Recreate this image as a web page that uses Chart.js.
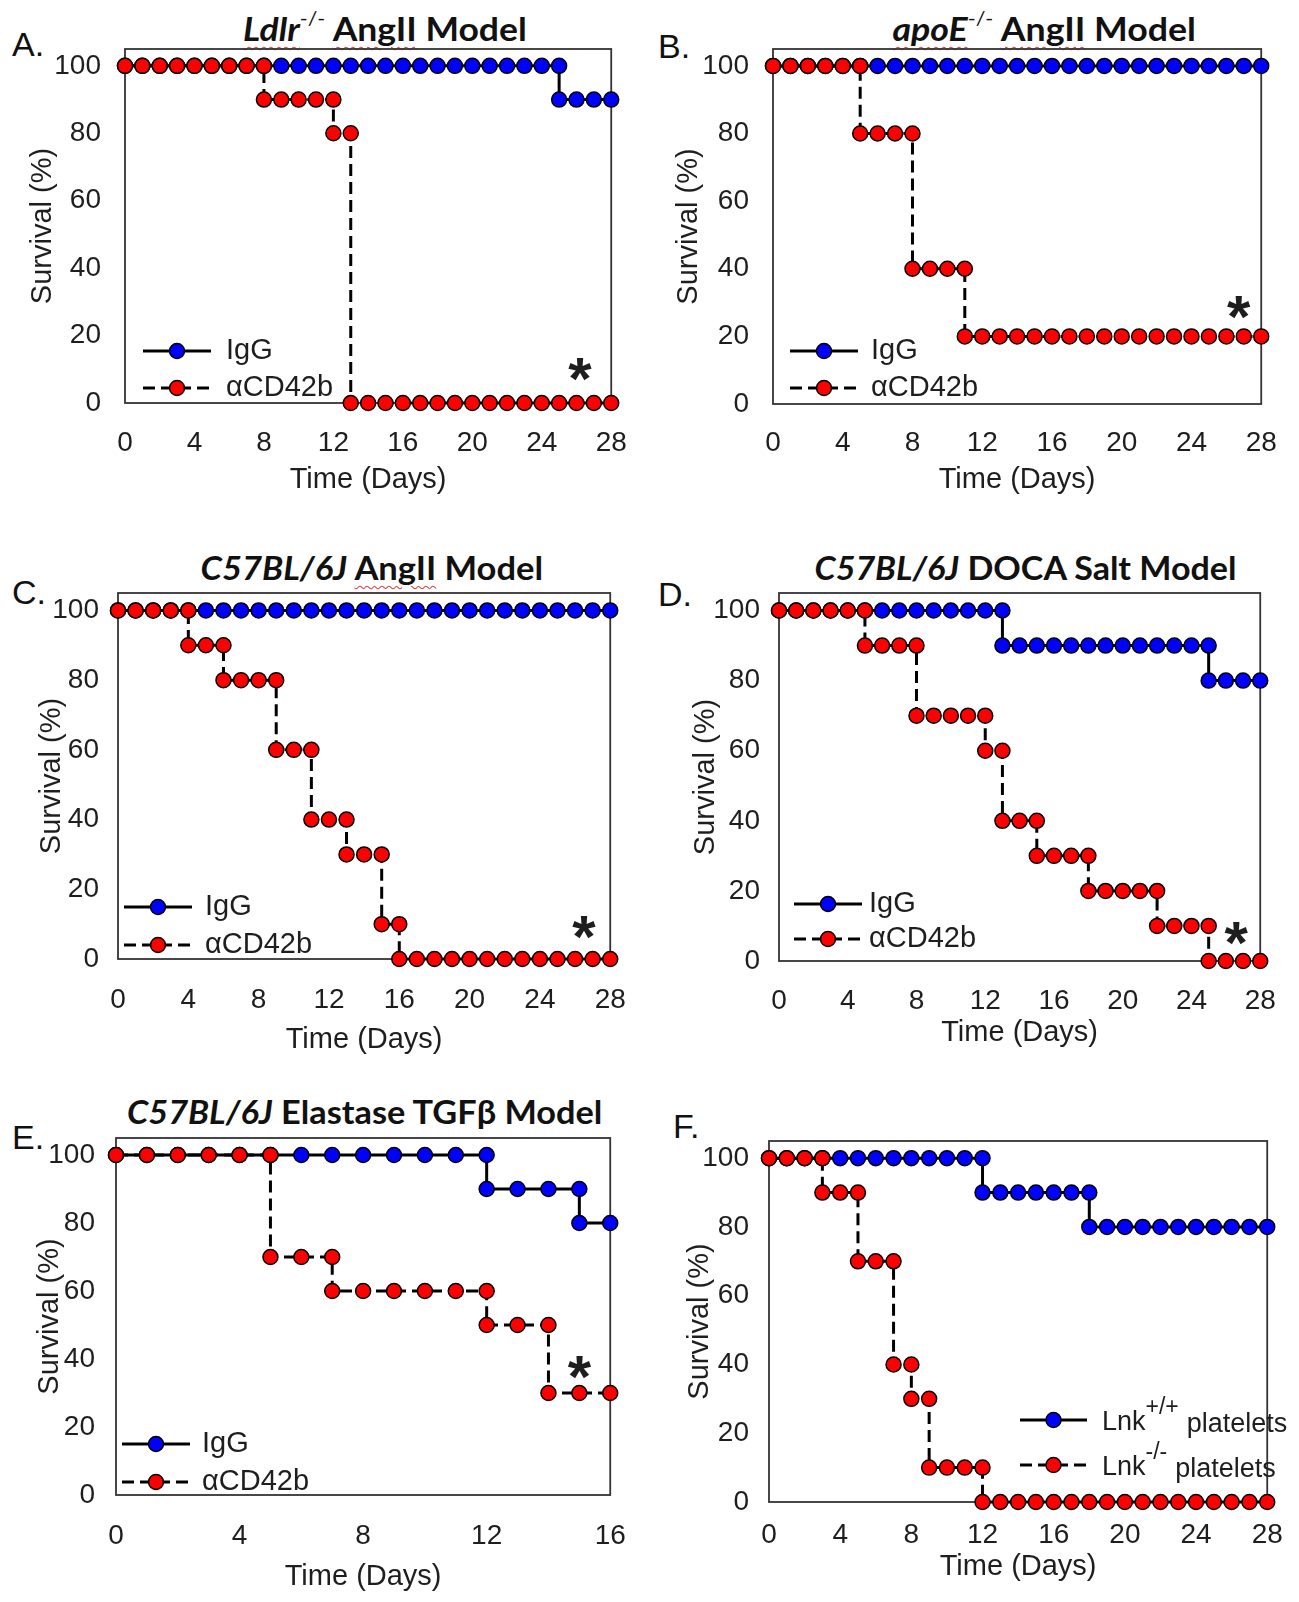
<!DOCTYPE html>
<html>
<head>
<meta charset="utf-8">
<script src="https://cdn.jsdelivr.net/npm/chart.js@4.4.1/dist/chart.umd.min.js"></script>
<style>
  body { margin: 0; background: #fff; width: 1299px; height: 1602px; position: relative; overflow: hidden; }
  canvas { position: absolute; }
  .title { position: absolute; font-family: Lato, "Open Sans", sans-serif; font-weight: 700; font-size: 33px;
           white-space: nowrap; color: #111; transform-origin: 50% 50%; line-height: 1; }
  .title sup { font-size: 60%; font-weight: 400; vertical-align: 0; position: relative; top: -0.8em; }
  .sq { text-decoration: underline wavy #e04040; text-decoration-thickness: 1px; text-underline-offset: 5px; }
  .letter { position: absolute; font-family: "Liberation Sans", Arial, sans-serif; font-size: 34px; color: #111; line-height: 1; }
</style>
</head>
<body>

<div class="letter" style="left:12px;top:27px">A.</div>
<div class="letter" style="left:658px;top:29px">B.</div>
<div class="letter" style="left:12px;top:575px">C.</div>
<div class="letter" style="left:658px;top:577px">D.</div>
<div class="letter" style="left:12px;top:1120px">E.</div>
<div class="letter" style="left:673px;top:1109px">F.</div>

<div class="title" data-cx="385" data-w="284" style="top:12px"><i class="sq">Ldlr</i><sup>-/-</sup> <span class="sq">AngII</span> Model</div>
<div class="title" data-cx="1044" data-w="303" style="top:12px"><i class="sq">apoE</i><sup>-/-</sup> <span class="sq">AngII</span> Model</div>
<div class="title" data-cx="372" data-w="343" style="top:551px"><i>C57BL/6J</i> <span class="sq">AngII</span> Model</div>
<div class="title" data-cx="1025" data-w="422" style="top:551px"><i>C57BL/6J</i> DOCA Salt Model</div>
<div class="title" data-cx="364" data-w="475" style="top:1095px"><i>C57BL/6J</i> Elastase TGFβ Model</div>

<script>
// tick labels
const dayTicks28 = [0, 4, 8, 12, 16, 20, 24, 28];
const dayTicks16 = [0, 4, 8, 12, 16];
const survivalTicks = [0, 20, 40, 60, 80, 100];

// legend labels
const treatLabels = ["IgG", "αCD42b"];
const lnkLabels = [["Lnk", "+/+", "platelets"], ["Lnk", "-/-", "platelets"]];

// survival (%) at each day, day 0 first
const ldlrIgG = [100,100,100,100,100,100,100,100,100,100,100,100,100,100,100,100,100,100,100,100,100,100,100,100,100,90,90,90,90];
const ldlrCD42b = [100,100,100,100,100,100,100,100,90,90,90,90,80,0,0,0,0,0,0,0,0,0,0,0,0,0,0,0,0];

const apoeIgG = [100,100,100,100,100,100,100,100,100,100,100,100,100,100,100,100,100,100,100,100,100,100,100,100,100,100,100,100,100];
const apoeCD42b = [100,100,100,100,100,80,80,80,40,40,40,20,20,20,20,20,20,20,20,20,20,20,20,20,20,20,20,20,20];

const c57IgG = [100,100,100,100,100,100,100,100,100,100,100,100,100,100,100,100,100,100,100,100,100,100,100,100,100,100,100,100,100];
const c57CD42b = [100,100,100,100,90,90,80,80,80,60,60,40,40,30,30,10,0,0,0,0,0,0,0,0,0,0,0,0,0];

const docaIgG = [100,100,100,100,100,100,100,100,100,100,100,100,100,90,90,90,90,90,90,90,90,90,90,90,90,80,80,80,80];
const docaCD42b = [100,100,100,100,100,90,90,90,70,70,70,70,60,40,40,30,30,30,20,20,20,20,10,10,10,0,0,0,0];

const elasIgG = [100,100,100,100,100,100,100,100,100,100,100,100,90,90,90,80,80];
const elasCD42b = [100,100,100,100,100,70,70,60,60,60,60,60,50,50,30,30,30];

const lnkWT = [100,100,100,100,100,100,100,100,100,100,100,100,90,90,90,90,90,90,80,80,80,80,80,80,80,80,80,80,80];
const lnkKO = [100,100,100,90,90,70,70,40,30,10,10,10,0,0,0,0,0,0,0,0,0,0,0,0,0,0,0,0,0];

const BLUE = "#0000ff";
const RED = "#ff0000";
const INK = "#1e1e1e";
const FONT = '"Liberation Sans", Arial, sans-serif';

// Kaplan-Meier style: on a drop day keep a point at the old level and one at the new level
function kmPoints(vals) {
  const pts = [];
  vals.forEach((v, d) => {
    if (d > 0 && v !== vals[d - 1]) pts.push({ x: d, y: vals[d - 1] });
    pts.push({ x: d, y: v });
  });
  return pts;
}

const panelDecor = {
  id: "panelDecor",
  beforeDatasetsDraw(chart) {
    const a = chart.chartArea;
    const ctx = chart.ctx;
    ctx.save();
    ctx.strokeStyle = "#333";
    ctx.lineWidth = 1.8;
    ctx.strokeRect(a.left, a.top, a.right - a.left, a.bottom - a.top);
    ctx.restore();
  },
  afterDraw(chart, args, opts) {
    const a = chart.chartArea;
    const ctx = chart.ctx;
    ctx.save();
    // legend
    opts.rows.forEach((dy, i) => {
      const ds = chart.data.datasets[i];
      const y = a.bottom + dy;
      const x1 = a.left + opts.dx;
      const x2 = x1 + opts.len;
      ctx.strokeStyle = "#000";
      ctx.lineWidth = ds.borderWidth;
      ctx.setLineDash(ds.borderDash || []);
      ctx.beginPath();
      ctx.moveTo(x1, y);
      ctx.lineTo(x2, y);
      ctx.stroke();
      ctx.setLineDash([]);
      ctx.beginPath();
      ctx.arc((x1 + x2) / 2, y, ds.pointRadius, 0, Math.PI * 2);
      ctx.fillStyle = ds.pointBackgroundColor;
      ctx.fill();
      ctx.lineWidth = ds.pointBorderWidth;
      ctx.stroke();

      ctx.fillStyle = INK;
      ctx.textBaseline = "middle";
      ctx.textAlign = "left";
      let tx = a.left + opts.tx;
      const lab = opts.labels[i];
      ctx.font = opts.fontSize + "px " + FONT;
      if (typeof lab === "string") {
        ctx.fillText(lab, tx, y);
      } else {
        ctx.fillText(lab[0], tx, y + 3);
        tx += ctx.measureText(lab[0]).width;
        ctx.font = Math.round(opts.fontSize * 0.85) + "px " + FONT;
        ctx.fillText(lab[1], tx, y - opts.fontSize * 0.45);
        tx += ctx.measureText(lab[1]).width + 8;
        ctx.font = opts.fontSize + "px " + FONT;
        ctx.fillText(lab[2], tx, y + 5);
      }
    });
    // significance mark
    if (opts.star) {
      const sx = chart.scales.x.getPixelForValue(opts.star[0]);
      const sy = chart.scales.y.getPixelForValue(opts.star[1]);
      ctx.font = "bold 60px " + FONT;
      ctx.fillStyle = INK;
      ctx.textAlign = "center";
      ctx.textBaseline = "alphabetic";
      const m = ctx.measureText("*");
      ctx.fillText("*", sx, sy + (m.actualBoundingBoxAscent - m.actualBoundingBoxDescent) / 2);
    }
    ctx.restore();
  }
};

function makePanel(p) {
  const [bx, by, bw, bh] = p.box;
  const [l, t, r, b] = p.area;
  const cv = document.createElement("canvas");
  cv.width = bw;
  cv.height = bh;
  cv.style.left = bx + "px";
  cv.style.top = by + "px";
  document.body.appendChild(cv);

  const tickSize = 28;
  const titleSize = 29;

  new Chart(cv.getContext("2d"), {
    type: "line",
    data: {
      datasets: [
        {
          data: kmPoints(p.blue),
          borderColor: "#000",
          borderWidth: 3,
          pointBackgroundColor: BLUE,
          pointBorderColor: "#000",
          pointBorderWidth: 1.5,
          pointRadius: 7.5,
          order: 1,
          clip: false
        },
        {
          data: kmPoints(p.red),
          borderColor: "#000",
          borderWidth: 3,
          borderDash: [12, 6],
          pointBackgroundColor: RED,
          pointBorderColor: "#000",
          pointBorderWidth: 1.5,
          pointRadius: 7.5,
          order: 0,
          clip: false
        }
      ]
    },
    options: {
      responsive: false,
      animation: false,
      devicePixelRatio: 1,
      layout: { padding: { top: t - by, right: bx + bw - r, left: 0, bottom: 0 } },
      plugins: {
        legend: { display: false },
        tooltip: { enabled: false },
        panelDecor: p.legend
      },
      scales: {
        x: {
          type: "linear",
          min: 0,
          max: p.xTicks[p.xTicks.length - 1],
          grid: { display: false, drawTicks: false },
          border: { display: false },
          afterBuildTicks: (s) => { s.ticks = p.xTicks.map((v) => ({ value: v })); },
          afterFit: (s) => { s.height = by + bh - b; },
          ticks: {
            autoSkip: false,
            maxRotation: 0,
            color: INK,
            font: { family: FONT, size: tickSize },
            padding: p.xTickY - b - tickSize * 0.6 + 3
          },
          title: {
            display: true,
            text: "Time (Days)",
            color: INK,
            font: { family: FONT, size: titleSize },
            padding: { top: 0, bottom: by + bh - p.xTitleY - titleSize * 0.6 }
          }
        },
        y: {
          min: 0,
          max: 105,
          grid: { display: false, drawTicks: false },
          border: { display: false },
          afterBuildTicks: (s) => { s.ticks = survivalTicks.map((v) => ({ value: v })); },
          afterFit: (s) => { s.width = l - bx; },
          ticks: {
            color: INK,
            font: { family: FONT, size: tickSize },
            padding: l - p.yTickRight
          },
          title: {
            display: true,
            text: "Survival (%)",
            color: INK,
            font: { family: FONT, size: titleSize },
            padding: { top: p.yTitleX - bx - titleSize * 0.6, bottom: 0 }
          }
        }
      }
    },
    plugins: [panelDecor]
  });
}

makePanel({
  box: [0, 0, 650, 520], area: [125, 49, 619, 403],
  blue: ldlrIgG, red: ldlrCD42b, xTicks: dayTicks28,
  yTickRight: 101, xTickY: 440, xTitleY: 480, yTitleX: 43,
  legend: { dx: 18, len: 68, tx: 101, rows: [-52, -15], labels: treatLabels, fontSize: 29, star: [26.2, 9.8] }
});
makePanel({
  box: [650, 0, 649, 520], area: [773, 49, 1267, 404],
  blue: apoeIgG, red: apoeCD42b, xTicks: dayTicks28,
  yTickRight: 749, xTickY: 440, xTitleY: 480, yTitleX: 689,
  legend: { dx: 17, len: 68, tx: 98, rows: [-53, -16], labels: treatLabels, fontSize: 29, star: [26.7, 28.6] }
});
makePanel({
  box: [0, 520, 650, 545], area: [118, 593, 621, 959],
  blue: c57IgG, red: c57CD42b, xTicks: dayTicks28,
  yTickRight: 99, xTickY: 997, xTitleY: 1040, yTitleX: 52,
  legend: { dx: 6, len: 68, tx: 87, rows: [-52, -14], labels: treatLabels, fontSize: 29, star: [26.5, 8.9] }
});
makePanel({
  box: [650, 520, 649, 545], area: [779, 593, 1277, 961],
  blue: docaIgG, red: docaCD42b, xTicks: dayTicks28,
  yTickRight: 760, xTickY: 998, xTitleY: 1033, yTitleX: 706,
  legend: { dx: 15, len: 68, tx: 90, rows: [-57, -22], labels: treatLabels, fontSize: 29, star: [26.6, 7.8] }
});
makePanel({
  box: [0, 1050, 650, 552], area: [116, 1138, 620, 1495],
  blue: elasIgG, red: elasCD42b, xTicks: dayTicks16,
  yTickRight: 95, xTickY: 1533, xTitleY: 1577, yTitleX: 50,
  legend: { dx: 6, len: 68, tx: 86, rows: [-51, -13], labels: treatLabels, fontSize: 29, star: [15.0, 37.6] }
});
makePanel({
  box: [650, 1050, 649, 552], area: [769, 1141, 1281, 1502],
  blue: lnkWT, red: lnkKO, xTicks: dayTicks28,
  yTickRight: 749, xTickY: 1532, xTitleY: 1567, yTitleX: 700,
  legend: { dx: 251, len: 67, tx: 333, rows: [-82, -37], labels: lnkLabels, fontSize: 27, star: null }
});

// squeeze the titles to the width they have in the figure
document.querySelectorAll(".title").forEach((el) => {
  const w = el.offsetWidth;
  el.style.left = (+el.dataset.cx - w / 2) + "px";
  el.style.transform = "scaleX(" + (+el.dataset.w / w) + ")";
});
</script>
</body>
</html>
